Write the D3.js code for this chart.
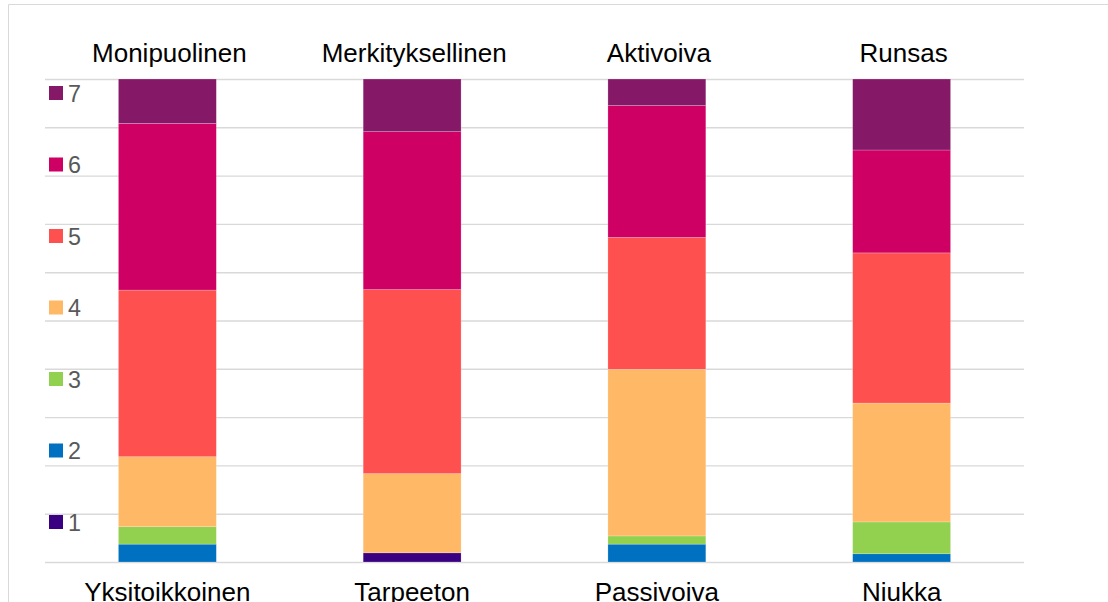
<!DOCTYPE html>
<html>
<head>
<meta charset="utf-8">
<script src="https://cdn.jsdelivr.net/npm/d3@7/dist/d3.min.js"></script>
<style>
  html, body { margin: 0; padding: 0; background: #fff; }
  svg { display: block; font-family: "Liberation Sans", Arial, sans-serif; }
</style>
</head>
<body>
<svg id="chart" width="1108" height="602"></svg>
<script>
// ---- data ----
const topLabels = ["Monipuolinen", "Merkityksellinen", "Aktivoiva", "Runsas"];
const bottomLabels = ["Yksitoikkoinen", "Tarpeeton", "Passivoiva", "Niukka"];
const seriesKeys = ["1", "2", "3", "4", "5", "6", "7"];
const s1 = [0, 1.9, 0, 0];
const s2 = [3.7, 0, 3.7, 1.7];
const s3 = [3.6, 0, 1.7, 6.6];
const s4 = [14.5, 16.4, 34.5, 24.6];
const s5 = [34.5, 38.1, 27.3, 31.1];
const s6 = [34.5, 32.7, 27.3, 21.3];
const s7 = [9.2, 10.9, 5.5, 14.7];
const yTicks = [0, 10, 20, 30, 40, 50, 60, 70, 80, 90, 100];
const colors = ["#3A0082", "#0070C0", "#92D050", "#FFB865", "#FF5050", "#CE0064", "#861868"];

(function () {
  const seriesVals = [s1, s2, s3, s4, s5, s6, s7];
  const rows = topLabels.map((c, i) => {
    const r = { cat: c, bottom: bottomLabels[i] };
    seriesKeys.forEach((k, j) => { r[k] = seriesVals[j][i]; });
    return r;
  });

  const svg = d3.select("#chart");

  // outer frame
  svg.append("path")
    .attr("d", "M8.5,610 V4.5 H1120")
    .attr("fill", "none").attr("stroke", "#d9d9d9").attr("stroke-width", 1);

  const pl = 45, pr = 1024, pt = 79, pb = 562;
  const x = d3.scaleBand().domain(topLabels).range([pl, pr]).paddingInner(0.6).paddingOuter(0.3);
  const y = d3.scaleLinear().domain([0, 100]).range([pb, pt]);
  const color = d3.scaleOrdinal().domain(seriesKeys).range(colors);

  // gridlines
  const grid = svg.append("g").attr("transform", `translate(${pl},0)`)
    .call(d3.axisLeft(y).tickValues(yTicks).tickSize(-(pr - pl)).tickFormat(""));
  grid.select(".domain").remove();
  grid.selectAll(".tick line").attr("stroke", "#d9d9d9").attr("stroke-width", 1.4);

  // stacked bars
  const stacked = d3.stack().keys(seriesKeys)(rows);
  svg.append("g").selectAll("g").data(stacked).join("g")
    .attr("fill", d => color(d.key))
    .selectAll("rect").data(d => d).join("rect")
    .attr("x", d => x(d.data.cat))
    .attr("width", x.bandwidth())
    .attr("y", d => y(d[1]))
    .attr("height", d => Math.max(0, y(d[0]) - y(d[1])))
    .attr("stroke", "rgba(255,255,255,0.35)")
    .attr("stroke-width", 0.6);

  // top labels
  svg.append("g").selectAll("text").data(rows).join("text")
    .attr("x", d => x(d.cat) + x.bandwidth() / 2 + 2)
    .attr("y", 62)
    .attr("text-anchor", "middle")
    .attr("font-size", 26)
    .attr("fill", "#000")
    .text(d => d.cat);

  // bottom labels
  svg.append("g").selectAll("text").data(rows).join("text")
    .attr("x", d => x(d.cat) + x.bandwidth() / 2)
    .attr("y", 601)
    .attr("text-anchor", "middle")
    .attr("font-size", 26)
    .attr("fill", "#000")
    .text(d => d.bottom);

  // legend
  const legendKeys = seriesKeys.slice().reverse();
  const lg = svg.append("g").selectAll("g").data(legendKeys).join("g")
    .attr("transform", (d, i) => `translate(49,${86 + i * 71.5})`);
  lg.append("rect").attr("width", 14).attr("height", 14).attr("fill", d => color(d));
  lg.append("text").attr("x", 19).attr("y", 15.8)
    .attr("font-size", 23.3).attr("fill", "#595959").text(d => d);
})();
</script>
</body>
</html>
